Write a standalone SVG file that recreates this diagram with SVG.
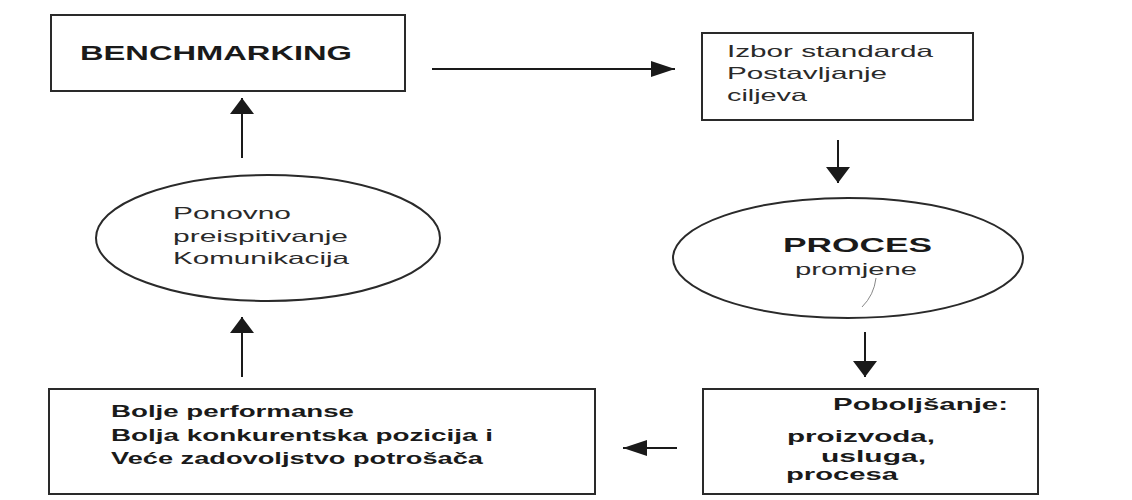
<svg xmlns="http://www.w3.org/2000/svg" width="1132" height="500" viewBox="0 0 1132 500">
<style>
.box{fill:#fff;stroke:#2a2a2a;stroke-width:2}
.ell{fill:#fff;stroke:#2a2a2a;stroke-width:2}
.t{font-family:"Liberation Sans",Arial,sans-serif;fill:#2a2a2a}
.b{font-weight:bold;fill:#1a1a1a}
.con{stroke:#1a1a1a;stroke-width:2;fill:none}
</style>
<defs>
<marker id="ah" markerUnits="userSpaceOnUse" markerWidth="26" markerHeight="18" refX="24" refY="8" orient="auto">
<path d="M0,0 L24,8 L0,16 Z" fill="#1a1a1a"/>
</marker>
<marker id="av" markerUnits="userSpaceOnUse" markerWidth="18" markerHeight="26" refX="16" refY="12" orient="auto">
<path d="M0,0 L16,12 L0,24 Z" fill="#1a1a1a"/>
</marker>
</defs>
<rect width="1132" height="500" fill="#fff"/>
<g id="connectors">
<line class="con" x1="432" y1="69" x2="675" y2="69" marker-end="url(#ah)"/>
<line class="con" x1="838" y1="140" x2="838" y2="183" marker-end="url(#av)"/>
<line class="con" x1="865" y1="332" x2="865" y2="377" marker-end="url(#av)"/>
<line class="con" x1="677" y1="448" x2="623" y2="448" marker-end="url(#ah)"/>
<line class="con" x1="242" y1="377" x2="242" y2="317" marker-end="url(#av)"/>
<line class="con" x1="242" y1="158" x2="242" y2="98" marker-end="url(#av)"/>
</g>
<g id="benchmarking">
<rect class="box" x="51" y="15" width="354" height="76"/>
<text class="t b" x="80" y="60" font-size="21" textLength="272" lengthAdjust="spacingAndGlyphs">BENCHMARKING</text>
</g>
<g id="izbor">
<rect class="box" x="702" y="33" width="271" height="87"/>
<text class="t" x="727" y="57" font-size="16.5" textLength="206" lengthAdjust="spacingAndGlyphs">Izbor standarda</text>
<text class="t" x="727" y="79" font-size="16.5" textLength="160" lengthAdjust="spacingAndGlyphs">Postavljanje</text>
<text class="t" x="727" y="101" font-size="16.5" textLength="80" lengthAdjust="spacingAndGlyphs">ciljeva</text>
</g>
<g id="proces">
<ellipse class="ell" cx="848" cy="258" rx="175" ry="60"/>
<text class="t b" x="783" y="252" font-size="21" textLength="149" lengthAdjust="spacingAndGlyphs">PROCES</text>
<text class="t" x="795" y="275" font-size="16.5" textLength="122" lengthAdjust="spacingAndGlyphs">promjene</text>
<path d="M876,278 Q874,295 862,307" stroke="#888" stroke-width="1" fill="none"/>
</g>
<g id="poboljsanje">
<rect class="box" x="703" y="389" width="335" height="105"/>
<text class="t b" x="833" y="410" font-size="16.5" textLength="175" lengthAdjust="spacingAndGlyphs">Poboljšanje:</text>
<text class="t b" x="787" y="442" font-size="16.5" textLength="148" lengthAdjust="spacingAndGlyphs">proizvoda,</text>
<text class="t b" x="821" y="462" font-size="16.5" textLength="105" lengthAdjust="spacingAndGlyphs">usluga,</text>
<text class="t b" x="786" y="480" font-size="16.5" textLength="112" lengthAdjust="spacingAndGlyphs">procesa</text>
</g>
<g id="bolje">
<rect class="box" x="49" y="389" width="546" height="105"/>
<text class="t b" x="111" y="417" font-size="16" textLength="243" lengthAdjust="spacingAndGlyphs">Bolje performanse</text>
<text class="t b" x="111" y="441" font-size="16" textLength="382" lengthAdjust="spacingAndGlyphs">Bolja konkurentska pozicija i</text>
<text class="t b" x="111" y="464" font-size="16" textLength="372" lengthAdjust="spacingAndGlyphs">Veće zadovoljstvo potrošača</text>
</g>
<g id="ponovno">
<ellipse class="ell" cx="268" cy="238" rx="172" ry="63"/>
<text class="t" x="173" y="219" font-size="16.5" textLength="118" lengthAdjust="spacingAndGlyphs">Ponovno</text>
<text class="t" x="173" y="242" font-size="16.5" textLength="175" lengthAdjust="spacingAndGlyphs">preispitivanje</text>
<text class="t" x="173" y="264" font-size="16.5" textLength="176" lengthAdjust="spacingAndGlyphs">Komunikacija</text>
</g>
</svg>
